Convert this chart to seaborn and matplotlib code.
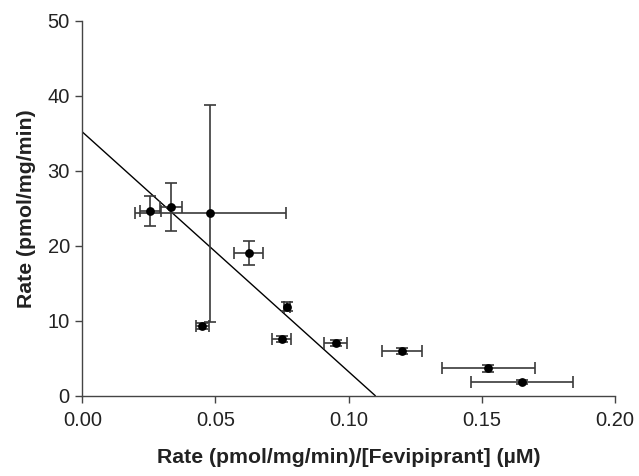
import matplotlib
matplotlib.use("Agg")
import matplotlib.pyplot as plt
import numpy as np
import pandas as pd
import seaborn as sns

# Eadie-Hofstee data: rate / [Fevipiprant] vs rate
ratio = [0.0256, 0.0333, 0.0481, 0.0625, 0.0769, 0.0451, 0.0748, 0.0951, 0.1200, 0.1525, 0.1652]
rate = [24.6, 25.15, 24.35, 19.1, 11.9, 9.35, 7.6, 7.0, 5.9, 3.65, 1.8]
ratio_err = [0.0040, 0.0043, 0.0285, 0.0054, 0.0010, 0.0025, 0.0037, 0.0043, 0.0075, 0.0175, 0.0191]
rate_err = [2.0, 3.2, 14.5, 1.6, 0.6, 0.4, 0.4, 0.4, 0.4, 0.5, 0.3]

# Linear fit: intercept (Vmax) and x-intercept
fit_x = [0.0, 0.110]
fit_y = [35.2, 0.0]

x_ticks = [0.00, 0.05, 0.10, 0.15, 0.20]
y_ticks = [0, 10, 20, 30, 40, 50]

sns.set_style("ticks")
plt.rcParams["font.family"] = ["Liberation Sans", "DejaVu Sans"]

fig = plt.figure(figsize=(6.39, 4.76), dpi=100)
ax = fig.add_axes([82.3 / 639, 1 - 395.7 / 476, (615 - 82.3) / 639, (395.7 - 21) / 476])

df = pd.DataFrame({"ratio": ratio, "rate": rate})
fit = pd.DataFrame({"x": fit_x, "y": fit_y})

sns.lineplot(data=fit, x="x", y="y", ax=ax, color="black", linewidth=1.0, zorder=2)
ax.errorbar(ratio, rate, xerr=ratio_err, yerr=rate_err, fmt="none",
            ecolor="#3a3a3a", elinewidth=1.2, capsize=4, capthick=1.2, zorder=3)
sns.scatterplot(data=df, x="ratio", y="rate", ax=ax, color="black", s=40,
                edgecolor="black", linewidth=0, zorder=4)

ax.set_xlim(0, 0.20)
ax.set_ylim(0, 50)
ax.set_xticks(x_ticks)
ax.set_xticklabels([f"{v:.2f}" for v in x_ticks])
ax.set_yticks(y_ticks)
ax.tick_params(axis="both", labelsize=14.5, length=5, width=1.0, color="#444444",
               direction="out", colors="#222222")
ax.tick_params(axis="x", pad=6)
ax.tick_params(axis="y", pad=4)
for s in ["left", "bottom"]:
    ax.spines[s].set_color("#444444")
    ax.spines[s].set_linewidth(1.0)
sns.despine(ax=ax)

ax.set_xlabel("Rate (pmol/mg/min)/[Fevipiprant] (\u00b5M)", fontsize=15.3,
              fontweight="bold", color="#222222", labelpad=13)
ax.set_ylabel("Rate (pmol/mg/min)", fontsize=15.3, fontweight="bold",
              color="#222222", labelpad=8)

fig.savefig("out.png", dpi=100)
